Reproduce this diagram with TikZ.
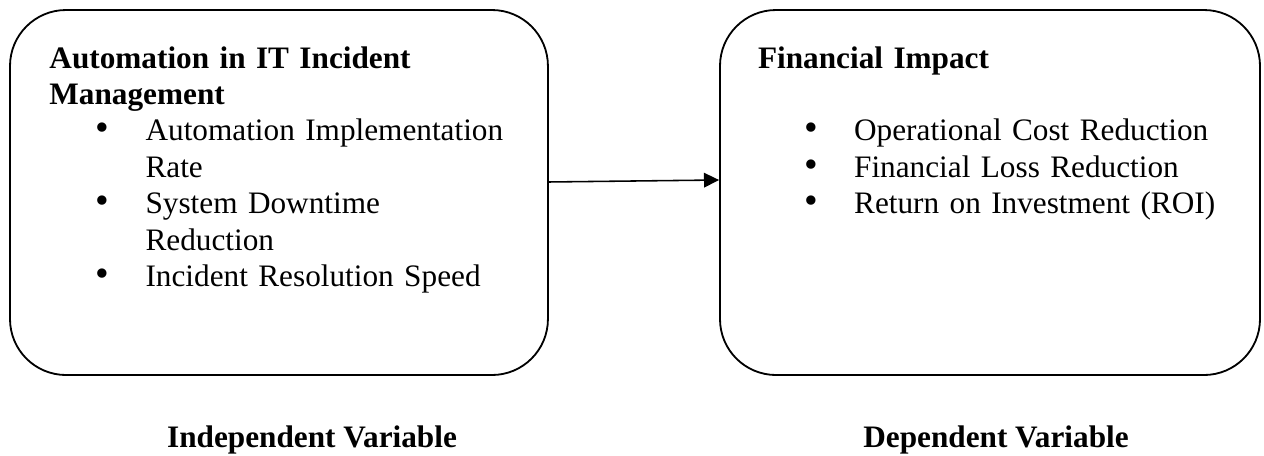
\documentclass[tikz,border=0pt]{standalone}
\usepackage{fontspec}
\setmainfont{Liberation Serif}
\usepackage{tikz}
\usetikzlibrary{positioning,arrows.meta}

\newcommand{\bigbullet}{{\fontsize{15}{14}\selectfont\textbullet}}
\newenvironment{bulletlist}{%
  \begin{list}{\bigbullet}{%
    \setlength{\leftmargin}{36.9pt}%
    \setlength{\labelwidth}{10pt}%
    \setlength{\labelsep}{14pt}%
    \setlength{\topsep}{0pt}\setlength{\partopsep}{0pt}%
    \setlength{\itemsep}{0pt}\setlength{\parsep}{0pt}}}%
  {\end{list}}

\begin{document}
\begin{tikzpicture}[
    varbox/.style={draw,line width=0.7pt,rounded corners=0.756cm,minimum width=7.26cm,minimum height=4.926cm,inner sep=0pt},
    boxtext/.style={anchor=base west,inner sep=0pt,text width=177pt,font=\fontsize{12}{14}\selectfont},
    varlabel/.style={anchor=base,inner sep=0pt,font=\fontsize{12}{14}\selectfont\bfseries}]
    \useasboundingbox (0,0) rectangle (17.059,-6.141);
    \node [varbox] (indep) at (3.765,-2.598) {};
    \node [varbox,minimum width=7.288cm] (dep) at (13.361,-2.598) {};
    \node [boxtext] (indeptext) at (0.661,-0.918) {\raggedright
        \textbf{Automation in IT Incident\\Management}
        \begin{bulletlist}
            \item Automation Implementation\\Rate
            \item System Downtime\\Reduction
            \item Incident Resolution Speed
        \end{bulletlist}};
    \node [boxtext] (deptext) at (10.224,-0.918) {\raggedright
        \textbf{Financial Impact}\par\mbox{}
        \begin{bulletlist}
            \item Operational Cost Reduction
            \item Financial Loss Reduction
            \item Return on Investment (ROI)
        \end{bulletlist}};
    \draw[-{Triangle[length=5.8pt,width=5.6pt]},line width=0.6pt] ([yshift=0.142cm]indep.east) -- ([yshift=0.169cm]dep.west);
    \node [varlabel] (indeplabel) at (4.211,-6.033) {Independent Variable};
    \node [varlabel] (deplabel) at (13.442,-6.033) {Dependent Variable};
\end{tikzpicture}
\end{document}
